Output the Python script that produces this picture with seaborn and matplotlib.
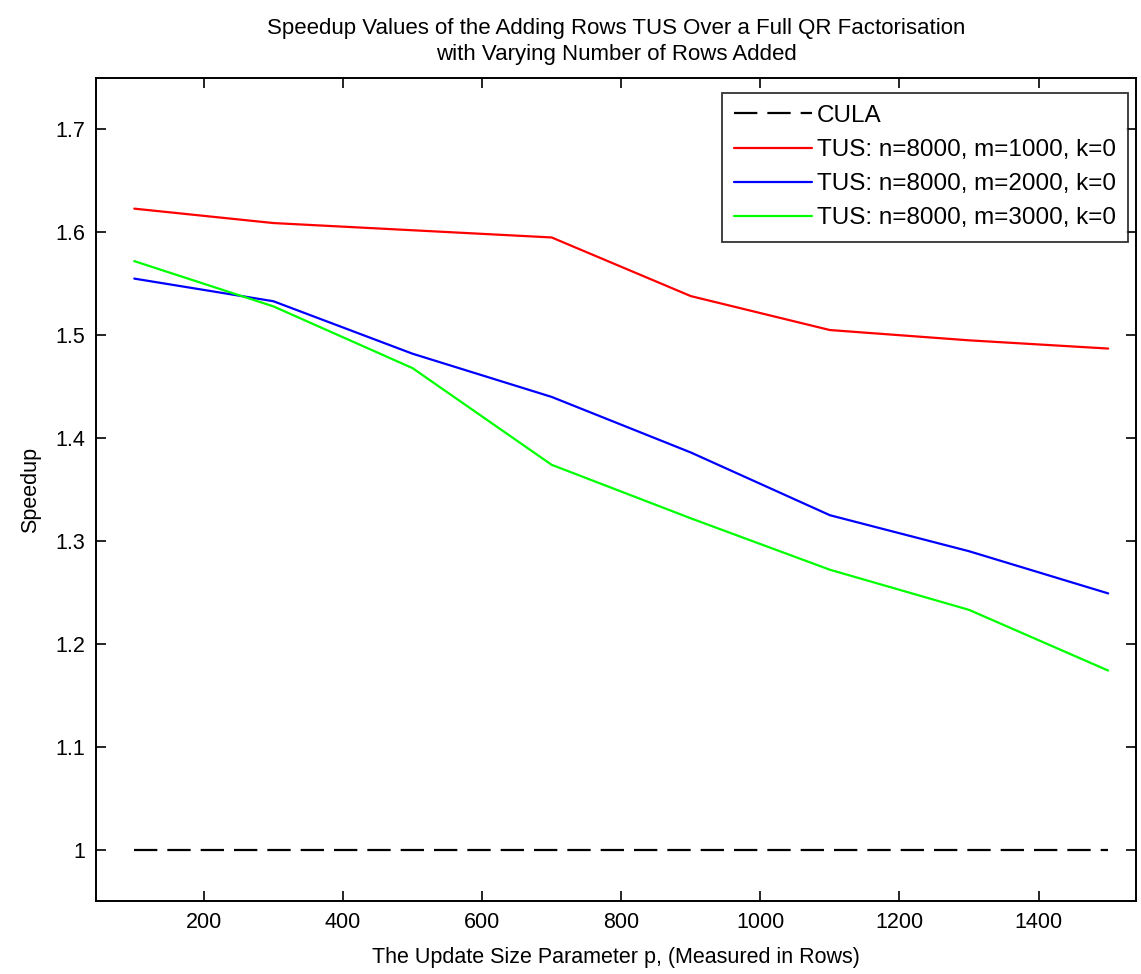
import matplotlib
matplotlib.use("Agg")
import matplotlib.pyplot as plt
import seaborn as sns
import pandas as pd

# ---- data ----
p_values = [100, 300, 500, 700, 900, 1100, 1300, 1500]
cula = [1.0, 1.0, 1.0, 1.0, 1.0, 1.0, 1.0, 1.0]
tus_m1000 = [1.623, 1.609, 1.602, 1.595, 1.538, 1.505, 1.495, 1.487]
tus_m2000 = [1.555, 1.533, 1.482, 1.440, 1.386, 1.325, 1.290, 1.249]
tus_m3000 = [1.572, 1.528, 1.468, 1.374, 1.322, 1.272, 1.233, 1.174]
series_labels = ["CULA",
                 "TUS: n=8000, m=1000, k=0",
                 "TUS: n=8000, m=2000, k=0",
                 "TUS: n=8000, m=3000, k=0"]
x_ticks = [200, 400, 600, 800, 1000, 1200, 1400]
y_ticks = [1.0, 1.1, 1.2, 1.3, 1.4, 1.5, 1.6, 1.7]
y_tick_labels = ["1", "1.1", "1.2", "1.3", "1.4", "1.5", "1.6", "1.7"]

sns.set_style("white")
plt.rcParams['font.family'] = ['Liberation Sans', 'DejaVu Sans']
plt.rcParams['text.color'] = 'black'
plt.rcParams['axes.labelcolor'] = 'black'
plt.rcParams['xtick.color'] = 'black'
plt.rcParams['ytick.color'] = 'black'

fig = plt.figure(figsize=(11.41, 9.74), dpi=100)
ax = fig.add_axes([96 / 1141, 1 - 901 / 974, (1136 - 96) / 1141, (901 - 78) / 974])

df = pd.DataFrame({"p": p_values, "CULA": cula,
                   series_labels[1]: tus_m1000,
                   series_labels[2]: tus_m2000,
                   series_labels[3]: tus_m3000})

lw = 1.6
sns.lineplot(data=df, x="p", y="CULA", ax=ax, color="black", linewidth=lw,
             dashes=False, label=series_labels[0])
ax.lines[-1].set_dashes((10.5, 4.5))
colors = ["#ff0000", "#0000ff", "#00ff00"]
for lab, c in zip(series_labels[1:], colors):
    sns.lineplot(data=df, x="p", y=lab, ax=ax, color=c, linewidth=lw, label=lab)

ax.set_xlim(45, 1540)
ax.set_ylim(0.95, 1.75)
ax.set_xticks(x_ticks)
ax.set_xticklabels([str(t) for t in x_ticks])
ax.set_yticks(y_ticks)
ax.set_yticklabels(y_tick_labels)
ax.tick_params(direction="in", length=7, width=1.2, labelsize=15.5,
               top=True, right=True, bottom=True, left=True, pad=8)
for s in ax.spines.values():
    s.set_linewidth(1.4)
    s.set_color("black")

ax.set_xlabel("The Update Size Parameter p, (Measured in Rows)", fontsize=15.5, labelpad=10)
ax.set_ylabel("Speedup", fontsize=15.5, labelpad=10)
ax.set_title("Speedup Values of the Adding Rows TUS Over a Full QR Factorisation\n"
             "with Varying Number of Rows Added", fontsize=16, pad=13, linespacing=1.3)

leg = ax.legend(loc="upper right", fontsize=17.5, handlelength=3.2, handletextpad=0.2,
                labelspacing=0.5, borderpad=0.5, borderaxespad=0, frameon=True,
                fancybox=False, bbox_to_anchor=(0.9925, 0.982))
leg.get_frame().set_edgecolor("black")
leg.get_frame().set_linewidth(1.3)

fig.savefig("out.png", dpi=100)
